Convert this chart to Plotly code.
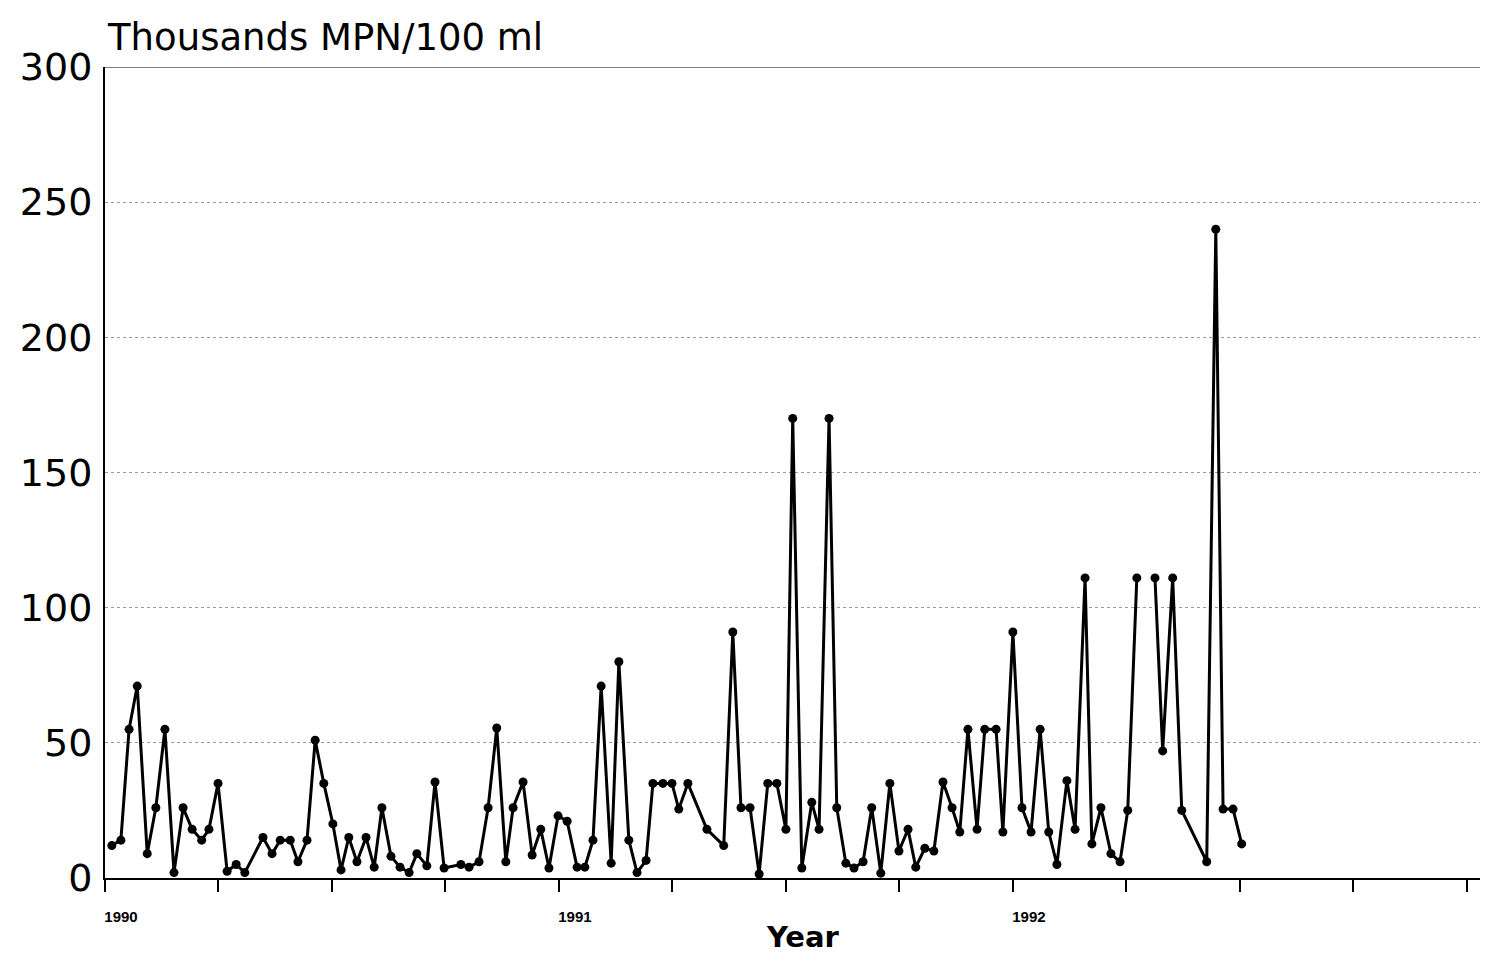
import plotly.graph_objects as go

# Sampling dates (decimal years) and fecal coliform values (thousands MPN/100 ml)
years = [
    1990.015, 1990.035, 1990.053, 1990.071, 1990.093, 1990.112, 1990.132, 1990.152,
    1990.172, 1990.192, 1990.213, 1990.229, 1990.249, 1990.269, 1990.289, 1990.308,
    1990.348, 1990.368, 1990.386, 1990.408, 1990.425, 1990.445, 1990.463, 1990.482,
    1990.502, 1990.520, 1990.537, 1990.555, 1990.575, 1990.593, 1990.610, 1990.630,
    1990.650, 1990.670, 1990.687, 1990.709, 1990.727, 1990.747, 1990.784, 1990.802,
    1990.824, 1990.844, 1990.863, 1990.883, 1990.899, 1990.921, 1990.941, 1990.960,
    1990.978, 1990.998, 1991.018, 1991.040, 1991.057, 1991.075, 1991.093, 1991.115,
    1991.132, 1991.154, 1991.172, 1991.192, 1991.207, 1991.229, 1991.249, 1991.264,
    1991.284, 1991.326, 1991.363, 1991.383, 1991.401, 1991.421, 1991.441, 1991.460,
    1991.480, 1991.500, 1991.515, 1991.535, 1991.557, 1991.573, 1991.595, 1991.612,
    1991.632, 1991.650, 1991.670, 1991.689, 1991.709, 1991.729, 1991.749, 1991.769,
    1991.786, 1991.806, 1991.826, 1991.846, 1991.866, 1991.883, 1991.901, 1991.921,
    1991.938, 1991.963, 1991.978, 1992.000, 1992.020, 1992.040, 1992.060, 1992.079,
    1992.097, 1992.119, 1992.137, 1992.159, 1992.174, 1992.194, 1992.216, 1992.236,
    1992.253, 1992.273, 1992.290, 1992.313, 1992.330, 1992.352, 1992.372, 1992.427,
    1992.447, 1992.463, 1992.485, 1992.504,
]
mpn = [
    12, 14, 55, 71, 9, 26, 55, 2,
    26, 18, 14, 18, 35, 2.5, 5, 2,
    15, 9, 14, 14, 6, 14, 51, 35,
    20, 3, 15, 6, 15, 4, 26, 8,
    4, 2, 9, 4.5, 35.5, 3.7, 5, 4,
    6, 26, 55.5, 6, 26, 35.5, 8.5, 18,
    3.7, 23, 21, 4, 4, 14, 71, 5.5,
    80, 14, 2, 6.5, 35, 35, 35, 25.5,
    35, 18, 12, 91, 26, 26, 1.5, 35,
    35, 18, 170, 3.7, 28, 18, 170, 26,
    5.5, 3.7, 6, 26, 1.8, 35, 10, 18,
    4, 11, 10, 35.5, 26, 17, 55, 18,
    55, 55, 17, 91, 26, 17, 55, 17,
    5, 36, 18, 111, 12.6, 26, 9, 6,
    25, 111, None, 111, 47, 111, 25, 6,
    240, 25.5, 25.5, 12.6,
]

year_ticks = [1990, 1990.25, 1990.5, 1990.75, 1991, 1991.25, 1991.5, 1991.75,
              1992, 1992.25, 1992.5, 1992.75, 1993]
year_labels = ["1990", "", "", "", "1991", "", "", "", "1992", "", "", "", ""]
y_ticks = [0, 50, 100, 150, 200, 250, 300]

fig = go.Figure()
fig.add_trace(go.Scatter(
    x=years, y=mpn, mode="lines+markers",
    line=dict(color="black", width=3),
    marker=dict(color="black", size=9, symbol="circle"),
    connectgaps=False, cliponaxis=False, showlegend=False,
))

fig.update_layout(
    width=1472, height=946,
    paper_bgcolor="white", plot_bgcolor="white",
    margin=dict(l=97, r=0, t=59, b=76),
    xaxis=dict(
        range=[1990, 1993.029], tickmode="array",
        tickvals=year_ticks, ticktext=year_labels,
        ticks="outside", ticklen=12, tickwidth=1.5, tickcolor="black",
        showline=True, linecolor="black", linewidth=1.5,
        showgrid=False, zeroline=False, automargin=False,
        tickfont=dict(family="Liberation Sans", size=15, color="black", weight="bold"),
        ticklabelshift=16, ticklabelstandoff=12,
    ),
    yaxis=dict(
        range=[0, 300], tickmode="array", tickvals=y_ticks,
        ticks="", showline=True, linecolor="black", linewidth=2,
        showgrid=True, gridcolor="#9a9a9a", griddash="dot", gridwidth=1,
        zeroline=False, automargin=False,
        tickfont=dict(family="DejaVu Sans", size=38, color="black"),
        ticklabelstandoff=3,
    ),
    shapes=[dict(type="line", xref="paper", yref="y", x0=0, x1=1, y0=300, y1=300,
                 line=dict(color="black", width=1.2))],
    annotations=[
        dict(text="Thousands MPN/100 ml", xref="paper", yref="paper",
             x=0, y=1, xanchor="left", yanchor="bottom", yshift=6, xshift=0,
             showarrow=False,
             font=dict(family="DejaVu Sans", size=37, color="black")),
        dict(text="<b>Year</b>", xref="paper", yref="paper",
             x=0.5076, y=0, xanchor="center", yanchor="middle", yshift=-59,
             showarrow=False,
             font=dict(family="DejaVu Sans", size=29, color="black")),
    ],
)

fig.write_html("out.html")
